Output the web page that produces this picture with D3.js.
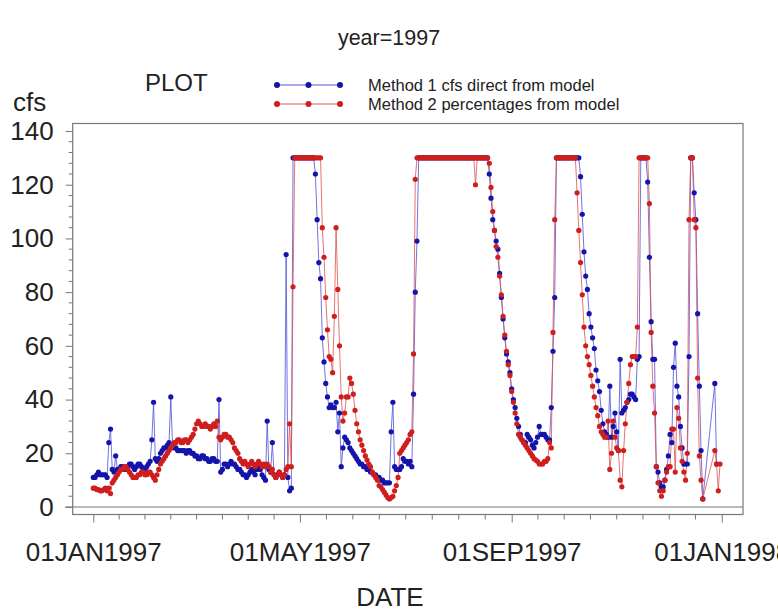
<!DOCTYPE html>
<html>
<head>
<meta charset="utf-8">
<script src="https://cdn.jsdelivr.net/npm/d3@7"></script>
<style>
  html, body { margin: 0; padding: 0; background: #fff; }
  svg text { font-family: "Liberation Sans", Arial, sans-serif; fill: #222; }
</style>
</head>
<body>
<svg id="chart" width="778" height="611"></svg>
<script>
// ---------------- DATA ----------------
const startDate = "1997-01-01"; // first day of the daily series
const seriesNames = ["Method 1 cfs direct from model", "Method 2 percentages from model"];
const yTicks = [0, 20, 40, 60, 80, 100, 120, 140];
const xTickLabels = ["01JAN1997", "01MAY1997", "01SEP1997", "01JAN1998"];
const xTickDates = ["1997-01-01", "1997-05-01", "1997-09-01", "1998-01-01"];

// Method 1 (blue), daily values, null = no value
const method1 = [
  11, 11, 12, 13, 12, 12, 12, 12, 11, 24,
  29, 14, 13, 19, 14, 14, 15, 15, 14, 14,
  15, 16, 16, 15, 14, 15, 16, 16, 15, 14,
  14, 15, 16, 17, 25, 39, 18, 17, 18, 20,
  21, 22, 22, 23, 24, 41, 23, 22, 22, 21,
  21, 21, 21, 21, 20, 21, 21, 20, 20, 19,
  19, 18, 18, 19, 19, 18, 18, 17, 17, 18,
  18, 17, 17, 40, 13, 14, 16, 16, 15, 16,
  17, 16, 16, 15, 14, 14, 13, 12, 12, 11,
  12, 13, 14, 13, 12, 14, 15, 14, 12, 11,
  10, 32, 14, 13, 24, 12, 11, 12, 13, 12,
  11, 12, 94, 11, 6, 7, 130, 130, 130, 130,
  130, 130, 130, 130, 130, 130, 130, 130, 130, 124,
  107, 91, 85, 63, 54, 46, 41, 37, 38, 37,
  37, 39, 28, 35, 15, 22, 26, 25, 24, 22,
  21, 20, 19, 18, 17, 16, 16, 15, 15, 14,
  14, 13, 13, 12, 12, 11, 11, 10, 10, 9,
  9, 9, 9, 28, 39, 15, 14, 14, 14, 15,
  18, 17, 17, 16, 17, 15, 42, 80, 99, 130,
  130, 130, 130, 130, 130, 130, 130, 130, 130, 130,
  130, 130, 130, 130, 130, 130, 130, 130, 130, 130,
  130, 130, 130, 130, 130, 130, 130, 130, 130, 130,
  130, 130, 130, 130, 130, 130, 130, 130, 130, 130,
  124, 115, 107, 103, 99, 96, 87, 78, 70, 63,
  57, 54, 50, 44, 40, 37, 33, 30, 27, 25,
  24, 24, 27, 26, 25, 23, 22, 24, 26, 30,
  27, 27, 27, 26, 25, 25, 37, 58, 78, 130,
  130, 130, 130, 130, 130, 130, 130, 130, 130, 130,
  130, 130, 130, 123, 109, 95, 86, 81, 72, 67,
  63, 59, 51, 47, 43, 36, 31, 28, 27, 26,
  45, 26, 30, 35, 28, 21, 55, 35, 36, 37,
  39, 40, 42, 42, 41, 40, 55, 56, 130, 130,
  130, 130, 121, 93, 69, 55, 55, 15, 13, 9,
  7.5, 7.5, 10, 14, 19, 27, 24, 52, 61, 45,
  41, 30, 22, 16, 16, 16, 56, 130, 130, 117,
  107, 72, 45, 21, 3, null, null, null, null, null,
  null, 46, 16, null, null
];

// Method 2 (red), daily values, null = no value
const method2 = [
  7, 7, 6.5, 6.5, 6, 6, 6.5, 7, 6, 7,
  5, 9, 10, 11, 12, 13, 14, 14, 15, 15,
  14, 13, 12, 11, 11, 11, 12, 12, 13, 13,
  12, 12, 13, 13, 12, 11, 10, 12, 14, 16,
  17, 18, 19, 20, 21, 22, 23, 24, 24, 25,
  25, 24, 24, 25, 25, 24, 25, 26, 27, 29,
  31, 32, 31, 30, 30, 31, 30, 30, 29, 30,
  31, 30, 32, 26, 25, 26, 27, 27, 26, 26,
  25, 24, 22, 21, 20, 18, 17, 16, 17, 16,
  15, 16, 17, 16, 15, 16, 17, 16, 15, 16,
  15, 16, 15, 13, 14, 12, 11, 12, 13, 12,
  11, 12, 14, 15, 31, 15, 82, 130, 130, 130,
  130, 130, 130, 130, 130, 130, 130, 130, 130, 130,
  130, 130, 130, 104, 93, 78, 66, 56, 55, 50,
  71, 104, 81, 60, 41, 32, 35, 41, 41, 48,
  46, 42, 36, 31, 28, 25, 23, 21, 19, 17.5,
  16, 15, 13, 12, 11, 10, 8, 7.5, 6.5, 5.5,
  4.5, 3.5, 3, 3.5, 4, 6, 8, 11, 20, 21,
  22, 23, 24, 25, 27, 28, 57, 122, 130, 130,
  130, 130, 130, 130, 130, 130, 130, 130, 130, 130,
  130, 130, 130, 130, 130, 130, 130, 130, 130, 130,
  130, 130, 130, 130, 130, 130, 130, 130, 130, 130,
  130, 130, 120, 130, 130, 130, 130, 130, 130, 130,
  128, 119, 110, 103, 97, 93, 86, 79, 71, 64,
  58, 53, 49, 43, 39, 35, 31, 27, 26, 25,
  24, 23, 22, 21, 20, 19, 18, 17.5, 17, 16,
  16, 16, 17, 17, 18, 24, 22, 65, 107, 130,
  130, 130, 130, 130, 130, 130, 130, 130, 130, 130,
  130, 117, 103, 91, 79, 67, 60, 56, 53, 49,
  45, 41, 37, 34, 30, 28, 27, 26, 26, 32,
  14, 20, 32, 26, 22, 21, 10, 7.5, 21, 31,
  39, 46, 53, 56, 56, 56, 67, 130, 130, 130,
  130, 130, 130, 113, 65, 45, 35, 15, 9, 6,
  4, 6, 10, 13, 15, 15, 29, 29, 13, 37,
  33, 22, 17, 13, 10, 20, 107, 130, 130, 107,
  104, 48, 19, 10, 3, null, null, null, null, null,
  null, 21, 16, 6, 16
];

// ---------------- CHART ----------------
const svg = d3.select("#chart");
const frame = { left: 72.7, right: 743, top: 123.5, bottom: 514.5 };

const x = d3.scaleUtc()
  .domain([Date.UTC(1996, 11, 20, 0, 43), Date.UTC(1998, 0, 13, 8, 38)])
  .range([frame.left, frame.right]);
const y = d3.scaleLinear()
  .domain([-2.8, 142.8])
  .range([frame.bottom, frame.top]);

const day0 = new Date(startDate + "T00:00:00Z");
function toPoints(arr) {
  return arr.map((v, i) => ({ date: new Date(day0.getTime() + i * 864e5), v }))
            .filter(p => p.v !== null);
}
const series = [
  { name: seriesNames[0], pts: toPoints(method1), line: "#5050d8", dot: "#1414aa" },
  { name: seriesNames[1], pts: toPoints(method2), line: "#e05050", dot: "#cf1e1e" }
];

// Title and labels
svg.append("text").attr("x", 389).attr("y", 45).attr("text-anchor", "middle")
  .style("font-size", "21.5px").text("year=1997");
svg.append("text").attr("x", 145).attr("y", 91)
  .style("font-size", "24px").text("PLOT");
svg.append("text").attr("x", 13).attr("y", 111)
  .style("font-size", "26px").text("cfs");
svg.append("text").attr("x", 390).attr("y", 606).attr("text-anchor", "middle")
  .style("font-size", "26px").text("DATE");

// Legend
const legY = [85, 104];
series.forEach((s, i) => {
  const g = svg.append("g");
  g.append("line").attr("x1", 277).attr("x2", 340).attr("y1", legY[i]).attr("y2", legY[i])
    .attr("stroke", s.line).attr("stroke-width", 1.2);
  [277, 308.5, 340].forEach(cx => g.append("circle").attr("cx", cx).attr("cy", legY[i])
    .attr("r", 3).attr("fill", s.dot));
  g.append("text").attr("x", 368).attr("y", legY[i] + 6)
    .style("font-size", "16.5px").text(s.name);
});

// Frame
svg.append("rect").attr("x", frame.left).attr("y", frame.top)
  .attr("width", frame.right - frame.left).attr("height", frame.bottom - frame.top)
  .attr("fill", "none").attr("stroke", "#777").attr("stroke-width", 1.2);

// zero reference line
svg.append("line").attr("x1", 65).attr("x2", frame.right)
  .attr("y1", y(0)).attr("y2", y(0)).attr("stroke", "#777").attr("stroke-width", 1.2);

// Y axis
const yMinor = d3.range(0, 141, 4).filter(v => v % 20 !== 0);
const yAxis = svg.append("g").attr("transform", `translate(${frame.left},0)`)
  .call(d3.axisLeft(y).tickValues(yTicks).tickSize(7).tickPadding(12).tickFormat(d3.format("d")));
yAxis.select(".domain").remove();
yAxis.selectAll(".tick line").attr("stroke", "#777");
yAxis.selectAll(".tick text").style("font-size", "26px").attr("fill", "#222")
  .style("font-family", "'Liberation Sans', Arial, sans-serif");
yAxis.selectAll(".minor").data(yMinor).enter().append("line")
  .attr("x1", -4).attr("x2", 0).attr("y1", d => y(d)).attr("y2", d => y(d))
  .attr("stroke", "#777");

// X axis
const majorDates = xTickDates.map(s => new Date(s + "T00:00:00Z"));
const xAxis = svg.append("g").attr("transform", `translate(0,${frame.bottom})`)
  .call(d3.axisBottom(x).tickValues(majorDates).tickSize(8).tickPadding(20)
    .tickFormat((d, i) => xTickLabels[i]));
xAxis.select(".domain").remove();
xAxis.selectAll(".tick line").attr("stroke", "#777");
xAxis.selectAll(".tick text").style("font-size", "26px").attr("fill", "#222")
  .style("font-family", "'Liberation Sans', Arial, sans-serif");
const xMinor = [];
for (let k = 0; k < majorDates.length - 1; k++) {
  const a = majorDates[k].getTime(), b = majorDates[k + 1].getTime();
  for (let j = 1; j < 8; j++) xMinor.push(new Date(a + (b - a) * j / 8));
}
xAxis.selectAll(".minor").data(xMinor).enter().append("line")
  .attr("x1", d => x(d)).attr("x2", d => x(d)).attr("y1", 0).attr("y2", 5)
  .attr("stroke", "#777");

// Series
const line = d3.line().x(p => x(p.date)).y(p => y(p.v));
const plot = svg.append("g");
series.forEach(s => {
  plot.append("path").datum(s.pts).attr("d", line)
    .attr("fill", "none").attr("stroke", s.line).attr("stroke-width", 1).attr("stroke-opacity", 0.8);
});
series.forEach(s => {
  plot.append("g").selectAll("circle").data(s.pts).enter().append("circle")
    .attr("cx", p => x(p.date)).attr("cy", p => y(p.v)).attr("r", 2.6).attr("fill", s.dot);
});
</script>
</body>
</html>
